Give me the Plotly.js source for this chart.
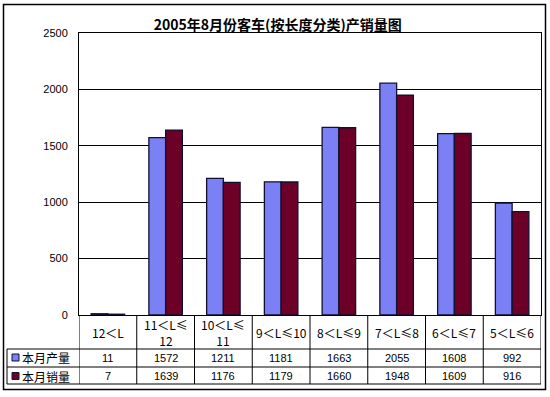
<!DOCTYPE html>
<html>
<head>
<meta charset="utf-8">
<script src="https://cdn.plot.ly/plotly-3.0.1.min.js"></script>
<style>html,body{margin:0;padding:0;background:#fff;}#chart{width:550px;height:397px;}</style>
</head>
<body>
<div id="chart"></div>
<script>
var categories = ["12＜L", "11＜L≤12", "10＜L≤11", "9＜L≤10", "8＜L≤9", "7＜L≤8", "6＜L≤7", "5＜L≤6"];
var categoryLabels = ["12＜L", "11＜L≤<br>12", "10＜L≤<br>11", "9＜L≤10", "8＜L≤9", "7＜L≤8", "6＜L≤7", "5＜L≤6"];
var production = [11, 1572, 1211, 1181, 1663, 2055, 1608, 992];
var sales = [7, 1639, 1176, 1179, 1660, 1948, 1609, 916];
var seriesNames = ["本月产量", "本月销量"];
var seriesColors = ["#7b80f4", "#6d0027"];
var titleText = "2005年8月份客车(按长度分类)产销量图";

// pixel layout helpers
var W = 550, H = 397;
var PL = 79, PR = 541, PT = 33, PB = 315;
function px(x) { return (x - PL) / (PR - PL); }
function py(y) { return (PB - y) / (PB - PT); }

var traces = [
  { type: "bar", x: categories, y: production, name: seriesNames[0],
    marker: { color: seriesColors[0], line: { color: "#101030", width: 1.3 } }, hoverinfo: "y" },
  { type: "bar", x: categories, y: sales, name: seriesNames[1],
    marker: { color: seriesColors[1], line: { color: "#101030", width: 1.3 } }, hoverinfo: "y" }
];

var shapes = [];
var annotations = [];
var lineStyle = { color: "#000", width: 1 };

// outer frame
shapes.push({ type: "rect", xref: "paper", yref: "paper", x0: px(3.5), x1: px(545.5), y0: py(389.5), y1: py(4.5),
  line: { color: "#000", width: 1.5 }, fillcolor: "rgba(0,0,0,0)", layer: "below" });

// table horizontal lines
[349, 367, 384].forEach(function (yy) {
  shapes.push({ type: "line", xref: "paper", yref: "paper", x0: px(7), x1: px(PR), y0: py(yy), y1: py(yy), line: lineStyle });
});
// table left edge
shapes.push({ type: "line", xref: "paper", yref: "paper", x0: px(7), x1: px(7), y0: py(349), y1: py(384), line: lineStyle });
// category boundaries (via the x axis)
for (var i = 0; i <= categories.length; i++) {
  shapes.push({ type: "line", xref: "x", yref: "paper", x0: i - 0.5, x1: i - 0.5, y0: py(PB), y1: py(384), line: lineStyle });
}

// category labels
categories.forEach(function (c, i) {
  annotations.push({ xref: "x", yref: "paper", x: i, y: py(332), text: categoryLabels[i], showarrow: false,
    xanchor: "center", yanchor: "middle", font: { family: "Noto Sans CJK SC", size: 12, color: "#000" } });
});

// data rows
var rows = [production, sales];
var rowY = [357.5, 376];
rows.forEach(function (vals, r) {
  vals.forEach(function (v, i) {
    annotations.push({ xref: "x", yref: "paper", x: i, y: py(rowY[r]), text: String(v), showarrow: false,
      xanchor: "center", yanchor: "middle", font: { family: "Liberation Sans, Arial", size: 11, color: "#000" } });
  });
  // legend key
  shapes.push({ type: "rect", xref: "paper", yref: "paper", x0: px(12), x1: px(19), y0: py(rowY[r] + 3.5), y1: py(rowY[r] - 3.5),
    fillcolor: seriesColors[r], line: { color: "#101030", width: 1 } });
  annotations.push({ xref: "paper", yref: "paper", x: px(21), y: py(rowY[r]), text: seriesNames[r], showarrow: false,
    xanchor: "left", yanchor: "middle", borderpad: 0,
    font: { family: "Noto Sans CJK SC", size: 12, color: "#000" } });
});

var layout = {
  width: W, height: H,
  margin: { l: PL, r: W - PR, t: PT, b: H - PB, pad: 0 },
  paper_bgcolor: "#fff", plot_bgcolor: "#fff",
  showlegend: false,
  bargap: 0.42, bargroupgap: 0,
  barmode: "group",
  title: { text: "<b>" + titleText + "</b>", x: 0.505, xanchor: "center", y: 1 - 25 / H, yanchor: "middle",
    font: { family: "Noto Sans CJK SC", size: 14, color: "#000" } },
  xaxis: { type: "category", showticklabels: false, ticks: "", showgrid: false, zeroline: false,
    showline: true, linecolor: "#000", linewidth: 1, mirror: true, range: [-0.5, categories.length - 0.5] },
  yaxis: { range: [0, 2500], dtick: 500, tick0: 0, showgrid: true, gridcolor: "#000", gridwidth: 1,
    zeroline: false, showline: true, linecolor: "#000", linewidth: 1, mirror: true, ticks: "",
    ticklabelstandoff: 8, tickfont: { family: "Liberation Sans, Arial", size: 11, color: "#000" } },
  shapes: shapes,
  annotations: annotations
};

Plotly.newPlot("chart", traces, layout, { displayModeBar: false, staticPlot: true });
</script>
</body>
</html>
